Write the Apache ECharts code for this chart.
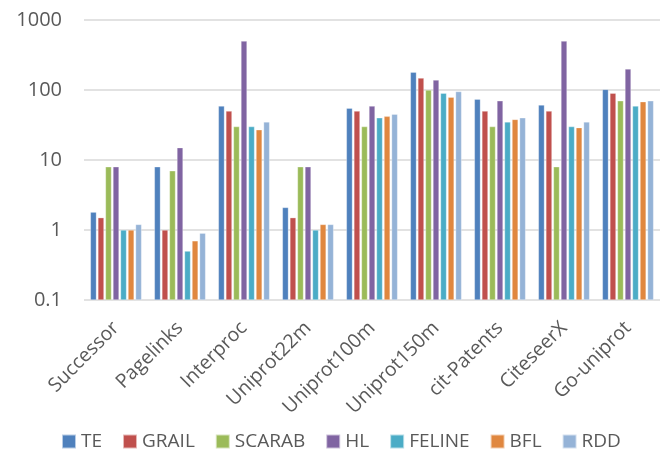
<!DOCTYPE html>
<html>
<head>
<meta charset="utf-8">
<script src="https://cdn.jsdelivr.net/npm/echarts@6/dist/echarts.min.js"></script>
<style>
  html, body { margin: 0; padding: 0; background: #fff; }
  #chart { width: 667px; height: 450px; }
</style>
</head>
<body>
<div id="chart"></div>
<script>
// datasets on the x axis
const categories = ['Successor', 'Pagelinks', 'Interproc', 'Uniprot22m', 'Uniprot100m', 'Uniprot150m', 'cit-Patents', 'CiteseerX', 'Go-uniprot']

// values per method (log scale)
const TE = [1.8, 8, 59, 2.1, 55, 180, 74, 61, 102]
const GRAIL = [1.5, 1, 50, 1.5, 50, 148, 50, 50, 90]
const SCARAB = [8, 7, 30, 8, 30, 100, 30, 8, 70]
const HL = [8, 15, 500, 8, 59, 139, 70, 500, 200]
const FELINE = [1, 0.5, 30, 1, 40, 90, 35, 30, 59]
const BFL = [1, 0.7, 27, 1.2, 42, 79, 38, 29, 68]
const RDD = [1.2, 0.9, 35, 1.2, 45, 95, 40, 35, 70]

const seriesNames = ['TE', 'GRAIL', 'SCARAB', 'HL', 'FELINE', 'BFL', 'RDD']
const seriesData = [TE, GRAIL, SCARAB, HL, FELINE, BFL, RDD]
const colors = ['#4F81BD', '#C0504D', '#9BBB59', '#8064A2', '#4BACC6', '#E0873F', '#95B3D7']

const font = '"Open Sans", "Noto Sans", sans-serif'

const option = {
  animation: false,
  color: colors,
  textStyle: { fontFamily: font },
  grid: { left: 84, right: 7, top: 20, bottom: 150 },
  legend: {
    top: 427,
    left: 56,
    itemWidth: 14,
    itemHeight: 14,
    itemGap: 20,
    icon: 'rect',
    textStyle: { fontSize: 19, color: '#595959', fontFamily: font },
    data: seriesNames,
  },
  xAxis: {
    type: 'category',
    data: categories,
    axisTick: { show: false },
    axisLine: { show: false },
    axisLabel: {
      rotate: 45,
      interval: 0,
      fontSize: 19.5,
      color: '#595959',
      margin: 25,
    },
  },
  yAxis: {
    type: 'log',
    logBase: 10,
    min: 0.1,
    max: 1000,
    startValue: 0.1,
    axisLine: { show: false },
    axisTick: { show: false },
    splitLine: { lineStyle: { color: '#D9D9D9', width: 1.5 } },
    axisLabel: {
      fontSize: 20,
      color: '#595959',
      margin: 22,
      formatter: (v) => (v < 1 ? v.toFixed(1) : String(Math.round(v))),
    },
  },
  series: seriesNames.map((name, i) => ({
    name: name,
    type: 'bar',
    data: seriesData[i],
    barGap: '25%',
    barCategoryGap: '20%',
    itemStyle: { borderColor: 'rgba(255,255,255,0.6)', borderWidth: 0.5 },
  })),
}

const c = echarts.init(document.getElementById('chart'))
c.setOption(option)
</script>
</body>
</html>
